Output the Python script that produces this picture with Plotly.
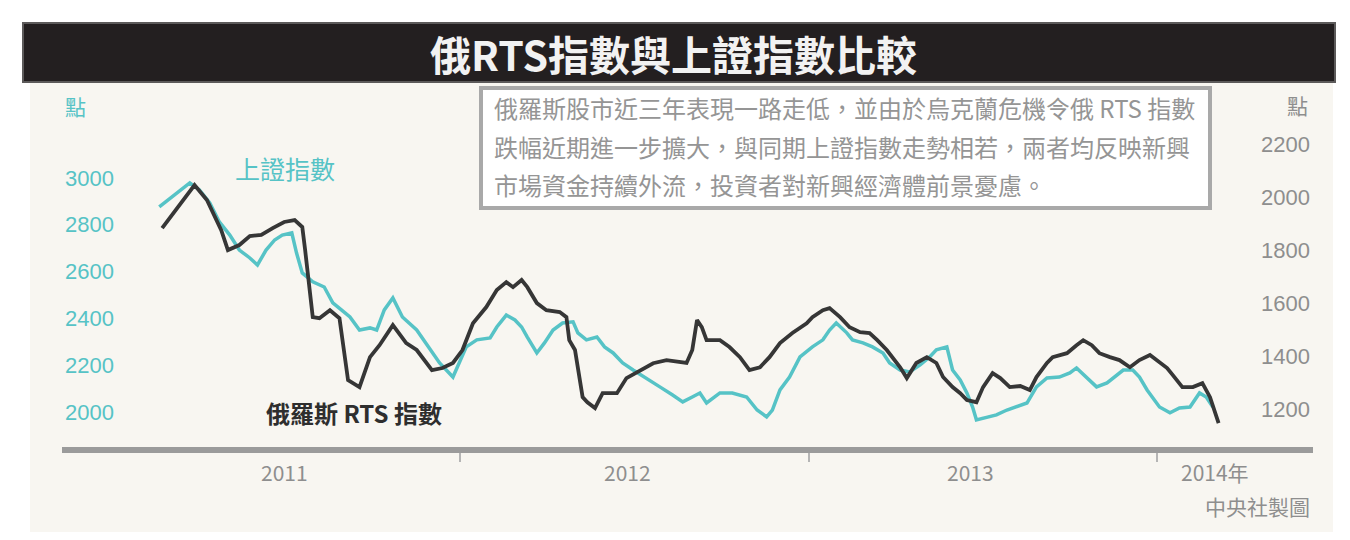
import plotly.graph_objects as go

W, H = 1350, 540

# ---------------- data ----------------
rts_dates = [
    "2011-02-23", "2011-03-13", "2011-03-29", "2011-04-11", "2011-04-26", "2011-05-03", "2011-05-15",
    "2011-05-26", "2011-06-07", "2011-06-19", "2011-07-01", "2011-07-12", "2011-07-20", "2011-07-23",
    "2011-07-28", "2011-07-31", "2011-08-07", "2011-08-18", "2011-08-28", "2011-09-06", "2011-09-18",
    "2011-09-29", "2011-10-09", "2011-10-23", "2011-11-06", "2011-11-17", "2011-12-03", "2011-12-14",
    "2011-12-25", "2012-01-04", "2012-01-15", "2012-01-29", "2012-02-09", "2012-02-19", "2012-02-26",
    "2012-03-06", "2012-03-12", "2012-03-22", "2012-04-01", "2012-04-15", "2012-04-22", "2012-04-25",
    "2012-05-01", "2012-05-06", "2012-05-09", "2012-05-14", "2012-05-22", "2012-05-30", "2012-06-14",
    "2012-06-24", "2012-07-08", "2012-07-22", "2012-08-05", "2012-08-26", "2012-09-01", "2012-09-06",
    "2012-09-11", "2012-09-16", "2012-09-30", "2012-10-10", "2012-10-21", "2012-10-31", "2012-11-11",
    "2012-11-21", "2012-12-02", "2012-12-15", "2012-12-30", "2013-01-05", "2013-01-16", "2013-01-23",
    "2013-02-03", "2013-02-13", "2013-02-24", "2013-03-06", "2013-03-14", "2013-03-24", "2013-04-07",
    "2013-04-14", "2013-04-24", "2013-05-05", "2013-05-15", "2013-05-22", "2013-06-01", "2013-06-09",
    "2013-06-16", "2013-06-26", "2013-07-03", "2013-07-13", "2013-07-21", "2013-07-31", "2013-08-11",
    "2013-08-21", "2013-08-28", "2013-09-08", "2013-09-14", "2013-09-29", "2013-10-09", "2013-10-16",
    "2013-10-25", "2013-11-02", "2013-11-13", "2013-11-23", "2013-12-04", "2013-12-14", "2013-12-25",
    "2014-01-04", "2014-01-12", "2014-01-18", "2014-01-28", "2014-02-08", "2014-02-18", "2014-02-26",
    "2014-03-05", "2014-03-07",
]
rts_values = [
    1883, 1970, 2045, 1989, 1875, 1800, 1819,
    1853, 1857, 1883, 1906, 1913, 1887, 1800,
    1638, 1547, 1543, 1573, 1543, 1309, 1283,
    1396, 1441, 1517, 1449, 1423, 1347, 1355,
    1374, 1423, 1524, 1585, 1649, 1679, 1660,
    1687, 1660, 1600, 1573, 1566, 1547, 1460,
    1423, 1321, 1245, 1226, 1204, 1260, 1260,
    1317, 1347, 1373, 1385, 1374, 1423, 1536,
    1509, 1460, 1460, 1434, 1396, 1347, 1358,
    1396, 1449, 1487, 1524, 1547, 1573, 1581,
    1547, 1509, 1490, 1487, 1460, 1423, 1358,
    1317, 1374, 1396, 1374, 1321, 1283, 1260,
    1234, 1226, 1283, 1336, 1317, 1283, 1287,
    1272, 1321, 1374, 1396, 1411, 1441, 1460,
    1441, 1411, 1396, 1385, 1358, 1385, 1404,
    1377, 1355, 1328, 1283, 1283, 1298, 1245,
    1170, 1147,
]

sse_dates = [
    "2011-02-20", "2011-03-08", "2011-03-24", "2011-04-03", "2011-04-14", "2011-04-24", "2011-05-05",
    "2011-05-15", "2011-05-26", "2011-06-03", "2011-06-12", "2011-06-21", "2011-06-29", "2011-07-09",
    "2011-07-14", "2011-07-20", "2011-07-31", "2011-08-12", "2011-08-21", "2011-08-30", "2011-09-08",
    "2011-09-18", "2011-09-29", "2011-10-06", "2011-10-14", "2011-10-23", "2011-11-02", "2011-11-17",
    "2011-12-01", "2011-12-11", "2011-12-25", "2012-01-01", "2012-01-08", "2012-01-19", "2012-02-02",
    "2012-02-09", "2012-02-19", "2012-02-28", "2012-03-06", "2012-03-12", "2012-03-22", "2012-03-30",
    "2012-04-08", "2012-04-18", "2012-04-29", "2012-05-04", "2012-05-13", "2012-05-24", "2012-06-01",
    "2012-06-10", "2012-06-20", "2012-07-01", "2012-07-15", "2012-07-29", "2012-08-11", "2012-08-22",
    "2012-09-01", "2012-09-09", "2012-09-16", "2012-09-30", "2012-10-13", "2012-10-28", "2012-11-08",
    "2012-11-18", "2012-11-24", "2012-12-02", "2012-12-12", "2012-12-23", "2013-01-05", "2013-01-16",
    "2013-01-23", "2013-01-30", "2013-02-10", "2013-02-16", "2013-02-27", "2013-03-09", "2013-03-20",
    "2013-03-27", "2013-04-07", "2013-04-17", "2013-04-28", "2013-05-08", "2013-05-15", "2013-05-26",
    "2013-06-01", "2013-06-09", "2013-06-16", "2013-06-22", "2013-06-26", "2013-07-07", "2013-07-17",
    "2013-07-28", "2013-08-07", "2013-08-18", "2013-08-28", "2013-09-08", "2013-09-21", "2013-10-02",
    "2013-10-09", "2013-10-20", "2013-10-30", "2013-11-10", "2013-11-16", "2013-11-27", "2013-12-07",
    "2013-12-14", "2013-12-22", "2014-01-04", "2014-01-15", "2014-01-25", "2014-02-05", "2014-02-15",
    "2014-02-22", "2014-03-01",
]
sse_values = [
    2876, 2927, 2979, 2949, 2893, 2812, 2756,
    2692, 2658, 2628, 2692, 2735, 2756, 2765,
    2679, 2594, 2556, 2534, 2466, 2436, 2406,
    2350, 2359, 2350, 2436, 2487, 2406, 2350,
    2265, 2209, 2149, 2214, 2278, 2308, 2316,
    2363, 2414, 2393, 2363, 2320, 2252, 2295,
    2350, 2380, 2385, 2338, 2308, 2320, 2278,
    2252, 2209, 2179, 2145, 2107, 2073, 2043,
    2064, 2081, 2038, 2081, 2081, 2064, 2008,
    1979, 2008, 2094, 2149, 2235, 2278, 2308,
    2350, 2380, 2338, 2308, 2295, 2278, 2252,
    2209, 2179, 2171, 2201, 2235, 2265, 2278,
    2179, 2137, 2081, 2021, 1966, 1979, 1987,
    2008, 2021, 2038, 2107, 2145, 2149, 2167,
    2188, 2145, 2107, 2124, 2145, 2179, 2179,
    2149, 2094, 2021, 1996, 2017, 2021, 2081,
    2064, 2021,
]

left_ticks = [2000, 2200, 2400, 2600, 2800, 3000]
right_ticks = [1200, 1400, 1600, 1800, 2000, 2200]
year_ticks = ["2012-01-01", "2013-01-01", "2014-01-01"]
year_label_pos = ["2011-07-01", "2012-06-25", "2013-06-20", "2014-03-03"]
year_labels = ["2011", "2012", "2013", "2014年"]

title_text = "俄RTS指數與上證指數比較"
note_lines = [
    "俄羅斯股市近三年表現一路走低，並由於烏克蘭危機令俄 RTS 指數",
    "跌幅近期進一步擴大，與同期上證指數走勢相若，兩者均反映新興",
    "市場資金持續外流，投資者對新興經濟體前景憂慮。",
]
sse_name = "上證指數"
rts_name = "俄羅斯 RTS 指數"
source_text = "中央社製圖"

# ---------------- styles ----------------
TEAL = "#56c3c6"
DARK = "#363636"
GRAY = "#8e8e8e"
CREAM = "#f8f6f1"
FONT = "Noto Sans CJK TC, Liberation Sans, sans-serif"


def px(x):
    return x / W


def py(y):
    return 1 - y / H


fig = go.Figure()

fig.add_trace(go.Scatter(
    x=sse_dates, y=sse_values, mode="lines", name=sse_name,
    line=dict(color=TEAL, width=3.5), yaxis="y", hoverinfo="skip",
))
fig.add_trace(go.Scatter(
    x=rts_dates, y=rts_values, mode="lines", name=rts_name,
    line=dict(color=DARK, width=3.8), yaxis="y2", hoverinfo="skip",
))

shapes = [
    dict(type="rect", xref="paper", yref="paper", x0=px(30), x1=px(1333), y0=py(532), y1=py(80),
         fillcolor=CREAM, line=dict(width=0), layer="below"),
    dict(type="rect", xref="paper", yref="paper", x0=px(23), x1=px(1335), y0=py(82), y1=py(23),
         fillcolor="#231f20", line=dict(color="#5c5a5a", width=2), layer="below"),
    dict(type="rect", xref="paper", yref="paper", x0=px(481), x1=px(1210), y0=py(208), y1=py(88),
         fillcolor="#ffffff", line=dict(color="#a9a9a9", width=4), layer="below"),
]

annotations = [
    dict(text=f"<b>{title_text}</b>", x=px(673), y=py(53), xref="paper", yref="paper",
         showarrow=False, font=dict(size=41, color="#f2f2f2", family=FONT),
         xanchor="center", yanchor="middle"),
    dict(text="點", x=px(75), y=py(106), xref="paper", yref="paper", showarrow=False,
         font=dict(size=21, color=TEAL, family=FONT), xanchor="center", yanchor="middle"),
    dict(text="點", x=px(1297), y=py(105), xref="paper", yref="paper", showarrow=False,
         font=dict(size=21, color=GRAY, family=FONT), xanchor="center", yanchor="middle"),
    dict(text=sse_name, x=px(285), y=py(168), xref="paper", yref="paper", showarrow=False,
         font=dict(size=25, color=TEAL, family=FONT), xanchor="center", yanchor="middle"),
    dict(text=f"<b>{rts_name}</b>", x=px(354), y=py(412), xref="paper", yref="paper", showarrow=False,
         font=dict(size=24, color="#2e2e2e", family=FONT), xanchor="center", yanchor="middle"),
    dict(text=source_text, x=px(1312), y=py(506), xref="paper", yref="paper", showarrow=False,
         font=dict(size=21, color=GRAY, family=FONT), xanchor="right", yanchor="middle"),
]
for i, line in enumerate(note_lines):
    annotations.append(dict(
        text=line, x=px(492), y=py(108 + 38 * i), xref="paper", yref="paper", showarrow=False,
        font=dict(size=24, color="#959595", family=FONT), xanchor="left", yanchor="middle"))
for pos, lab in zip(year_label_pos, year_labels):
    annotations.append(dict(
        text=lab, x=pos, y=py(472), xref="x", yref="paper", showarrow=False,
        font=dict(size=21, color=GRAY, family=FONT), xanchor="center", yanchor="middle"))

fig.update_layout(
    width=W, height=H,
    margin=dict(l=0, r=0, t=0, b=0),
    paper_bgcolor="#ffffff",
    plot_bgcolor="rgba(0,0,0,0)",
    showlegend=False,
    shapes=shapes,
    annotations=annotations,
    xaxis=dict(
        domain=[px(62), px(1313)],
        type="date",
        range=["2010-11-10", "2014-06-14"],
        showgrid=False, zeroline=False,
        showline=True, linecolor="#9b9b9b", linewidth=6,
        tickmode="array", tickvals=year_ticks, ticks="outside", ticklen=9,
        tickcolor="#b5b5b5", tickwidth=2, showticklabels=False,
    ),
    yaxis=dict(
        domain=[py(447), py(90)],
        range=[1850, 3376],
        showgrid=False, zeroline=False, showline=False,
        tickmode="array", tickvals=left_ticks, ticks="",
        ticklabelposition="inside",
        tickfont=dict(size=22, color=TEAL, family="Liberation Sans, Arial, sans-serif"),
    ),
    yaxis2=dict(
        domain=[py(447), py(90)],
        range=[1057, 2404],
        overlaying="y", side="right", anchor="x",
        showgrid=False, zeroline=False, showline=False,
        tickmode="array", tickvals=right_ticks, ticks="",
        ticklabelposition="inside",
        tickfont=dict(size=22, color=GRAY, family="Liberation Sans, Arial, sans-serif"),
    ),
)

fig.write_html("out.html", config={"displayModeBar": False},
               post_script="document.body.style.margin='0px';")
